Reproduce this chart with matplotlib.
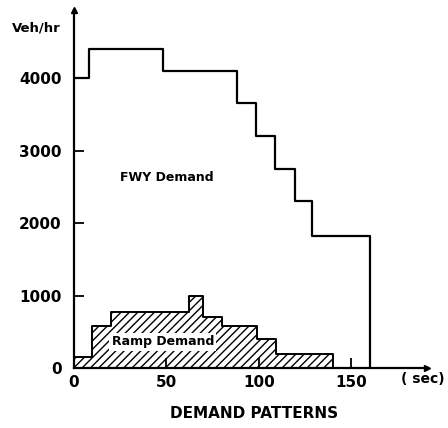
import matplotlib.pyplot as plt

# freeway demand: step start times (sec) and flow (veh/hr)
fwy_times = [0, 8, 48, 88, 98.5, 109, 119.5, 129, 160]
fwy_flow = [4000, 4400, 4100, 3650, 3200, 2750, 2300, 1825]

# ramp demand steps
ramp_times = [0, 10, 20, 62, 70, 80, 99, 109.5, 140]
ramp_flow = [150, 575, 775, 1000, 700, 575, 400, 200]

y_ticks = [0, 1000, 2000, 3000, 4000]
y_labels = ['0', '1000', '2000', '3000', '4000']
x_ticks = [0, 50, 100, 150]

plt.rcParams['hatch.linewidth'] = 1.0

fig = plt.figure(figsize=(4.48, 4.28), dpi=100)
ax = fig.add_axes([74 / 448, 60 / 428, 353 / 448, 358 / 428])
ax.set_xlim(0, 191)
ax.set_ylim(0, 4940)

# ramp demand, hatched area
rx = ramp_times
ry = ramp_flow + [ramp_flow[-1]]
ax.fill_between(rx, 0, ry, step='post', facecolor='white', edgecolor='black',
                hatch='////', linewidth=0)
ax.plot(rx + [rx[-1]], ry + [0], drawstyle='steps-post', color='black', lw=1.4)

# freeway demand line
fx = fwy_times + [fwy_times[-1]]
fy = fwy_flow + [fwy_flow[-1], 0]
ax.plot(fx, fy, drawstyle='steps-post', color='black', lw=1.6)

ax.text(50, 2630, 'FWY Demand', ha='center', va='center', fontsize=9,
        fontweight='bold')
ax.text(48, 360, 'Ramp Demand', ha='center', va='center', fontsize=9,
        fontweight='bold',
        bbox=dict(facecolor='white', edgecolor='none', pad=1.5))

for side in ['top', 'right']:
    ax.spines[side].set_visible(False)
for side in ['left', 'bottom']:
    ax.spines[side].set_linewidth(1.6)

# arrow heads on the axes
ax.plot(1, 0, '>k', ms=5, transform=ax.transAxes, clip_on=False)
ax.plot(0, 1, '^k', ms=5, transform=ax.transAxes, clip_on=False)

ax.set_yticks(y_ticks)
ax.set_yticklabels(y_labels)
ax.set_xticks(x_ticks)
ax.tick_params(direction='in', length=7, width=1.3, labelsize=11)
ax.tick_params(axis='x', pad=5)
ax.tick_params(axis='y', pad=9)
for lab in ax.get_xticklabels() + ax.get_yticklabels():
    lab.set_fontweight('bold')

fig.text(12 / 448, 1 - 28 / 428, 'Veh/hr', fontsize=9.5, fontweight='bold',
         va='center')
fig.text(445 / 448, 1 - 379 / 428, '( sec)', fontsize=10, fontweight='bold',
         ha='right', va='center')
fig.text(254 / 448, 1 - 414 / 428, 'DEMAND PATTERNS', fontsize=11,
         fontweight='bold', ha='center', va='center')

fig.savefig('out.png', dpi=100)
